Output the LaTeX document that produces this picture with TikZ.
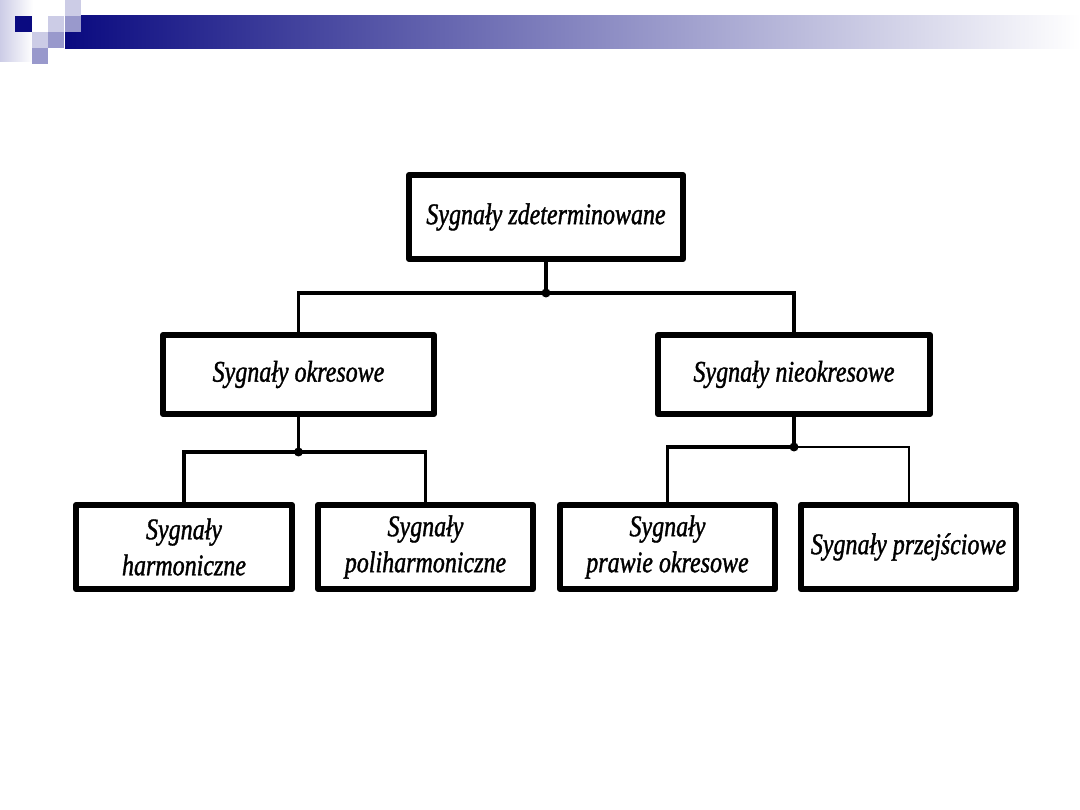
\documentclass[tikz,border=0pt]{standalone}
\usepackage{fontspec}
\setmainfont{Liberation Serif}[FakeStretch=0.8,FakeBold=1.2]
\usetikzlibrary{positioning}
\definecolor{navy}{RGB}{10,10,128}
\definecolor{lightsq}{RGB}{204,204,230}
\definecolor{midsq}{RGB}{153,153,204}
\begin{document}
\begin{tikzpicture}[x=1pt,y=-1pt,
  box/.style={draw, line width=6pt, line join=round, align=center, inner sep=0pt,
    font=\fontsize{30}{36}\selectfont\itshape},
  conn/.style={line width=3.2pt},
  thinconn/.style={line width=2pt},
  joint/.style={circle, fill=black, inner sep=0pt, minimum size=9pt}]
\useasboundingbox (0,0) rectangle (1080,810);
\fill[white] (0,0) rectangle (1080,810);
% header decoration
\shade[left color=lightsq, right color=white] (0,0) rectangle (33,62);
\shade[left color=navy, right color=white] (65,16) rectangle (1080,48.5);
\fill[navy] (15,16) rectangle (32,32);
\fill[lightsq] (65,0) rectangle (81,16);
\fill[lightsq] (48,16) rectangle (64,32);
\fill[midsq] (65,16) rectangle (81,32);
\fill[lightsq] (32,32) rectangle (48,48);
\fill[midsq] (48,32) rectangle (64,48);
\fill[midsq] (32,48) rectangle (48,64);
% boxes
\node[box, minimum width=274pt, minimum height=84pt] (top) at (546,217) {Sygnały zdeterminowane};
\node[box, minimum width=271pt, minimum height=79pt] (ok) at (298.5,374.5) {Sygnały okresowe};
\node[box, minimum width=272pt, minimum height=79pt] (nok) at (794,374.5) {Sygnały nieokresowe};
\node[box, minimum width=216pt, minimum height=84pt] (harm) at (184,547) {Sygnały\\harmoniczne};
\node[box, minimum width=215pt, minimum height=84pt] (poli) at (425.5,547) {Sygnały\\poliharmoniczne};
\node[box, minimum width=215pt, minimum height=84pt] (praw) at (667.5,547) {Sygnały\\prawie okresowe};
\node[box, minimum width=215pt, minimum height=84pt] (przej) at (908.5,547) {Sygnały przejściowe};
% joints
\coordinate (j1) at (546,293);
\coordinate (j2) at (298.5,452);
\coordinate (j3) at (794,447);
\draw[conn] (top.south) -- (j1);
\draw[conn] (j1) -| (ok.north);
\draw[conn] (j1) -| (nok.north);
\draw[conn] (ok.south) -- (j2);
\draw[conn] (j2) -| (harm.north);
\draw[conn] (j2) -| (poli.north);
\draw[conn] (nok.south) -- (j3);
\draw[conn] (j3) -| (praw.north);
\draw[thinconn] (j3) -| (przej.north);
\node[joint] (d1) at (j1) {};
\node[joint] (d2) at (j2) {};
\node[joint] (d3) at (j3) {};
\end{tikzpicture}
\end{document}
